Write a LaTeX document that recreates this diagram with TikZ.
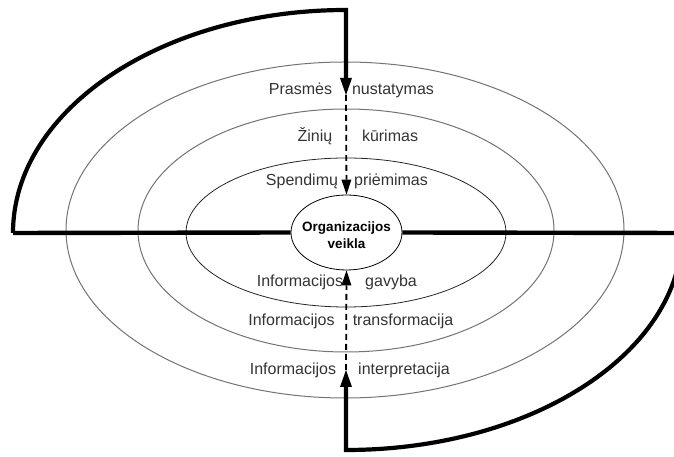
\documentclass[tikz,border=0pt]{standalone}
\usepackage{fontspec}
\setmainfont{Liberation Sans}
\usetikzlibrary{arrows.meta,shapes.geometric}

\tikzset{
  ring/.style={draw=black!55, line width=1pt},
  innerring/.style={draw=black!85, line width=0.8pt},
  hub/.style={ellipse, draw=black, line width=0.8pt, minimum width=111pt,
              minimum height=75pt, inner sep=0pt},
  hubtext/.style={font=\bfseries\fontsize{13.5}{17}\selectfont, align=center, inner sep=0pt},
  axisline/.style={line width=4.4pt},
  flowline/.style={line width=4.2pt, line join=miter,
                   -{Triangle[length=17pt,width=12pt,line width=0pt]}},
  dashflow/.style={line width=1.8pt, dash pattern=on 6pt off 4pt,
                   -{Triangle[length=15pt,width=10pt,line width=0pt]}},
  lbl/.style={font=\fontsize{16}{19}\selectfont, text=black!80, anchor=base, inner sep=0pt}
}

\begin{document}
\begin{tikzpicture}[x=1pt,y=1pt]
  \useasboundingbox (0,0) rectangle (674,457);
  \clip (0,0) rectangle (674,457);

  % concentric rings
  \draw[ring] (345,227) ellipse[x radius=279, y radius=168];
  \draw[ring] (346,226.5) ellipse[x radius=208, y radius=121.5];
  \draw[innerring] (346,224.5) ellipse[x radius=160, y radius=74.5];

  % central activity
  \node[hub, fill=white] (org) at (346.5,224.5) {};
  \node[hubtext] (orgtext) at (346.5,222) {Organizacijos\\veikla};

  % anchor points of the two flows
  \coordinate (hl) at (13,224);
  \coordinate (hr) at (682,224);
  \coordinate (ttip) at (346,362);
  \coordinate (btip) at (346,87);

  % horizontal axis
  \draw[axisline] (hl) -- (org.west);
  \draw[axisline] (org.east) -- (hr);

  % top flow: outer arc down to the centre
  \draw[flowline] (hl) arc[start angle=180, end angle=90, x radius=333, y radius=223] -- (ttip);
  \draw[dashflow] (ttip) -- (org.north);

  % bottom flow: outer arc up to the centre
  \draw[flowline] (hr) arc[start angle=0, end angle=-90, x radius=336, y radius=217] -- (btip);
  \draw[dashflow] (btip) -- (org.south);

  % upper labels
  \node[lbl] (l1a) at (300.5,362) {Prasmės};
  \node[lbl] (l1b) at (393,362) {nustatymas};
  \node[lbl] (l2a) at (315,315) {Žinių};
  \node[lbl] (l2b) at (390,315) {kūrimas};
  \node[lbl] (l3a) at (302,271) {Spendimų};
  \node[lbl] (l3b) at (391,271) {priėmimas};

  % lower labels
  \node[lbl] (l4a) at (300,170) {Informacijos};
  \node[lbl] (l4b) at (391,170) {gavyba};
  \node[lbl] (l5a) at (291.5,131) {Informacijos};
  \node[lbl] (l5b) at (403,131) {transformacija};
  \node[lbl] (l6a) at (293,82) {Informacijos};
  \node[lbl] (l6b) at (404,82) {interpretacija};
\end{tikzpicture}
\end{document}
